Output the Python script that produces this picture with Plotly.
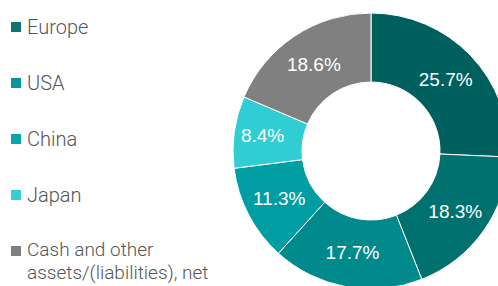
import plotly.graph_objects as go

# Data
slice_labels = ["Europe", "USA", "Other countries", "China", "Japan",
                "Cash and other assets/(liabilities), net"]
slice_values = [25.7, 18.3, 17.7, 11.3, 8.4, 18.6]
slice_colors = ["#00605e", "#00716f", "#008a8c", "#009ea3", "#30cdd3", "#808080"]

legend_labels = ["Europe", "USA", "China", "Japan",
                 "Cash and other\nassets/(liabilities), net"]
legend_colors = ["#0f7373", "#0a9599", "#0ba5a9", "#35cfd5", "#7f7f7f"]

W, H = 510, 290  # figure slightly larger than window so the donut is cropped

fig = go.Figure()
fig.add_trace(go.Pie(
    labels=slice_labels,
    values=slice_values,
    sort=False,
    direction="clockwise",
    rotation=0,
    hole=0.5,
    marker=dict(colors=slice_colors, line=dict(color="white", width=1)),
    texttemplate="%{value:.1f}%",
    textposition="inside",
    insidetextorientation="horizontal",
    insidetextfont=dict(color="white", size=19, family="Liberation Sans, Arial, sans-serif"),
    domain=dict(x=[233 / W, 509 / W], y=[1 / H, 277 / H]),
    showlegend=False,
    hoverinfo="label+percent",
))

# Legend built from the label list
annotations = []
shapes = []
for i, (lab, col) in enumerate(zip(legend_labels, legend_colors)):
    cy = 27 + 56 * i
    lines = lab.split("\n")
    shapes.append(dict(type="rect", xref="paper", yref="paper",
                       x0=11 / W, x1=21 / W, y0=1 - (cy + 5) / H, y1=1 - (cy - 5) / H,
                       fillcolor=col, line=dict(width=0)))
    for j, line in enumerate(lines):
        ly = cy - (2 if len(lines) > 1 else 0) + 23 * j
        annotations.append(dict(
            text=line, xref="paper", yref="paper",
            x=25 / W, y=1 - ly / H,
            xanchor="left", yanchor="middle", showarrow=False,
            font=dict(size=20 if len(lines) == 1 else 19, color="#555555",
                      family="Roboto, Liberation Sans, sans-serif", weight=300),
        ))

fig.update_layout(
    width=W, height=H,
    margin=dict(l=0, r=0, t=0, b=0),
    paper_bgcolor="white",
    plot_bgcolor="white",
    annotations=annotations,
    shapes=shapes,
)

fig.write_html(
    "out.html",
    config={"displayModeBar": False},
    post_script="document.body.style.margin='0';document.body.style.overflow='hidden';document.documentElement.style.overflow='hidden';",
)
